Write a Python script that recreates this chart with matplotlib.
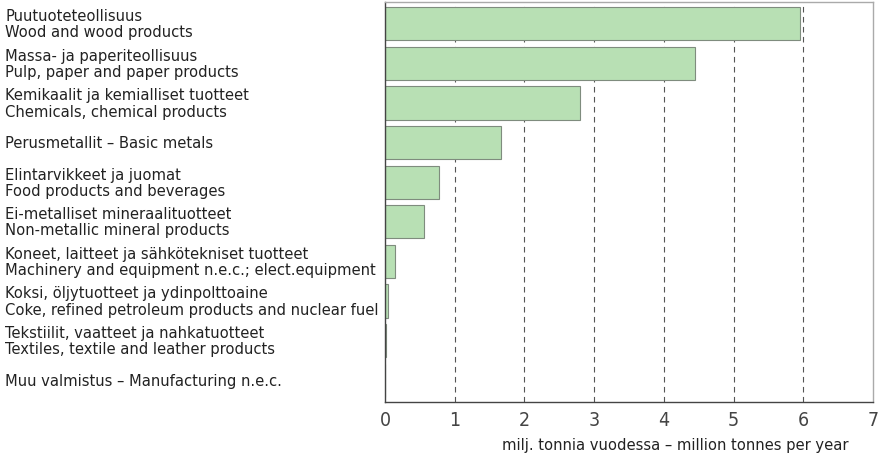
#!/usr/bin/env python3
"""Industrial output by branch, million tonnes per year (horizontal bars)."""

import matplotlib
matplotlib.use("Agg")
import matplotlib.pyplot as plt
import matplotlib.transforms as mtransforms

# Data (top to bottom)
labels = [
    "Puutuoteteollisuus\nWood and wood products",
    "Massa- ja paperiteollisuus\nPulp, paper and paper products",
    "Kemikaalit ja kemialliset tuotteet\nChemicals, chemical products",
    "Perusmetallit \u2013 Basic metals",
    "Elintarvikkeet ja juomat\nFood products and beverages",
    "Ei-metalliset mineraalituotteet\nNon-metallic mineral products",
    "Koneet, laitteet ja sähkötekniset tuotteet\nMachinery and equipment n.e.c.; elect.equipment",
    "Koksi, öljytuotteet ja ydinpolttoaine\nCoke, refined petroleum products and nuclear fuel",
    "Tekstiilit, vaatteet ja nahkatuotteet\nTextiles, textile and leather products",
    "Muu valmistus \u2013 Manufacturing n.e.c.",
]
values = [5.96, 4.44, 2.80, 1.67, 0.77, 0.56, 0.14, 0.05, 0.01, 0.005]
xticks = [0, 1, 2, 3, 4, 5, 6, 7]
xlabel = "milj. tonnia vuodessa \u2013 million tonnes per year"

# condensed face of DejaVu Sans comes closest to the narrow original type
plt.rcParams["font.family"] = ["DejaVu Sans"]
plt.rcParams["font.stretch"] = "condensed"

fig = plt.figure(figsize=(8.8, 4.6), dpi=100)
ax = fig.add_axes([385 / 880, 1 - 403 / 460, 488 / 880, 400 / 460])

y = list(range(len(values)))
ax.barh(y, values, height=0.84, color="#b8e0b4", edgecolor="#7f8c7e", linewidth=0.8, zorder=2)

ax.set_xlim(0, 7)
ax.set_ylim(len(values) - 0.45, -0.55)
ax.set_xticks(xticks)
ax.set_xticklabels([str(t) for t in xticks], fontsize=14, color="#444444")
ax.set_yticks([])
ax.tick_params(axis="x", length=0, pad=6)

# dashed vertical grid
for t in xticks[1:-1]:
    ax.axvline(t, color="#555555", linestyle=(0, (5, 4)), linewidth=0.8, zorder=1)

ax.spines["left"].set_color("#444444")
ax.spines["bottom"].set_color("#444444")
ax.spines["top"].set_color("#aaaaaa")
ax.spines["right"].set_color("#aaaaaa")
for s in ax.spines.values():
    s.set_linewidth(1.0)

ax.set_xlabel(xlabel, fontsize=11.8, color="#222222")
ax.xaxis.set_label_coords(0.594, -0.088)

# category labels at the left edge of the figure
trans = mtransforms.blended_transform_factory(fig.transFigure, ax.transData)
for yi, lab in zip(y, labels):
    ax.text(5 / 880, yi, lab, transform=trans, ha="left", va="center",
            fontsize=11.8, color="#222222", linespacing=1.1, clip_on=False)

fig.savefig("out.png", dpi=100)
